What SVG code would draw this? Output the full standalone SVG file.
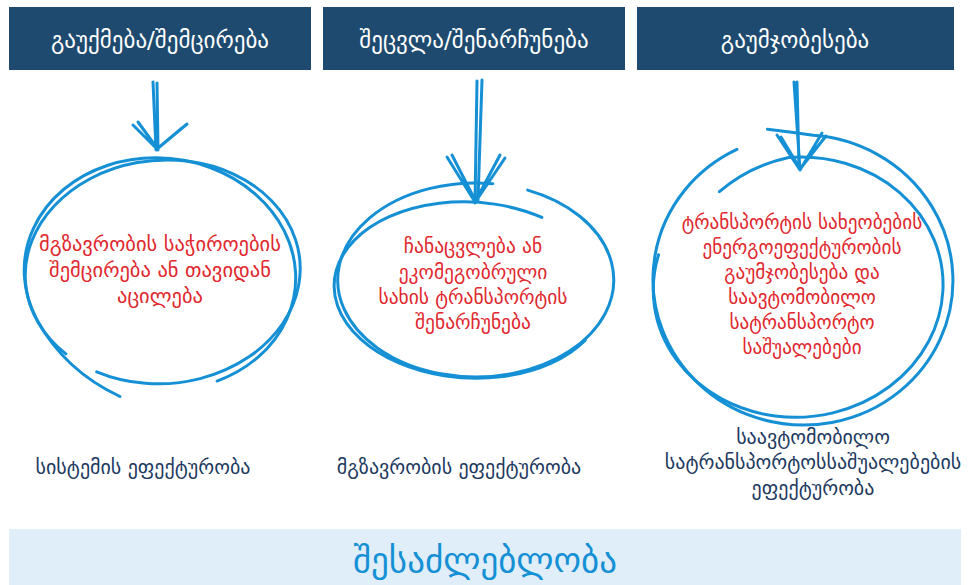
<svg xmlns="http://www.w3.org/2000/svg" width="973" height="585" viewBox="0 0 973 585">
<style>
.hdr{fill:#1d4a6e}
.ht{font-family:"DejaVu Sans",sans-serif;font-size:23px;fill:#ffffff;text-anchor:middle}
.sk{fill:none;stroke:#1590d5;stroke-width:3;stroke-linecap:round;stroke-linejoin:round}
.rt{font-family:"DejaVu Sans",sans-serif;font-size:19.5px;fill:#e0282e;text-anchor:middle}
.lb{font-family:"DejaVu Sans",sans-serif;font-size:20px;fill:#1e3a5f;text-anchor:middle}
.bt{font-family:"DejaVu Sans",sans-serif;font-size:35px;fill:#1590d5;text-anchor:middle}
</style>
<rect width="973" height="585" fill="#ffffff"/>
<g id="header1"><rect class="hdr" x="9" y="7" width="302" height="63"/><text class="ht" x="160" y="48">გაუქმება/შემცირება</text></g>
<g id="header2"><rect class="hdr" x="323" y="7" width="302" height="63"/><text class="ht" x="474" y="48">შეცვლა/შენარჩუნება</text></g>
<g id="header3"><rect class="hdr" x="637" y="7" width="317" height="63"/><text class="ht" x="795" y="48">გაუმჯობესება</text></g>
<g id="connectors">
<path class="sk" d="M153 82 L156 150 M157 83 L158 150 M133 125 L157 149 L187 124 M138 122 L157 148 M182 128 L157 149"/>
<path class="sk" d="M477 81 L475 203 M482 80 L478 200 M447 157 L475 202 L500 155 M452 155 L475 200 M505 158 L476 201"/>
<path class="sk" d="M794 82 L800 170 M797 82 L799 168 M777 135 L800 170 L822 133 M781 137 L799 167 M826 136 L800 169"/>
</g>
<g id="node1">
<path class="sk" transform="rotate(-4 163 272)" d="M89.9 367 A138 112 0 0 0 240.2 179.2 A138 112 0 0 0 60.4 346.9"/>
<path class="sk" transform="rotate(6 160 274)" d="M228 374.5 A136 116 0 0 0 96.2 171.6 A136 116 0 0 0 42.2 332 Q75 380 133 400"/>
<text class="rt" style="font-size:20.5px" x="160" y="251">მგზავრობის საჭიროების</text>
<text class="rt" style="font-size:20.5px" x="160" y="277">შემცირება ან თავიდან</text>
<text class="rt" style="font-size:20.5px" x="160" y="303">აცილება</text>
</g>
<g id="node2">
<path class="sk" d="M527.7 190.1 A138 97 0 1 1 492.8 183.7"/>
<path class="sk" transform="rotate(3 470 290)" d="M587.8 334 A136 88 0 1 1 538 213.8"/>
<text class="rt" x="473" y="253">ჩანაცვლება ან</text>
<text class="rt" x="473" y="279">ეკომეგობრული</text>
<text class="rt" x="473" y="304">სახის ტრანსპორტის</text>
<text class="rt" x="473" y="329">შენარჩუნება</text>
</g>
<g id="node3">
<path class="sk" transform="rotate(4 803 280)" d="M757 132 Q780 133 803 135 A150 145 0 1 1 728 154.4"/>
<path class="sk" transform="rotate(-5 800 287)" d="M728 185 Q760 162 800 157 A145 130 0 1 1 661.9 242.5"/>
<text class="rt" style="font-size:19.2px" x="802" y="229">ტრანსპორტის სახეობების</text>
<text class="rt" style="font-size:19.2px" x="802" y="254">ენერგოეფექტურობის</text>
<text class="rt" style="font-size:19.2px" x="802" y="279">გაუმჯობესება და</text>
<text class="rt" style="font-size:19.2px" x="802" y="304">საავტომობილო</text>
<text class="rt" style="font-size:19.2px" x="802" y="329">სატრანსპორტო</text>
<text class="rt" style="font-size:19.2px" x="802" y="354">საშუალებები</text>
</g>
<g id="label1"><text class="lb" x="143" y="474">სისტემის ეფექტურობა</text></g>
<g id="label2"><text class="lb" x="459" y="474">მგზავრობის ეფექტურობა</text></g>
<g id="label3">
<text class="lb" x="813" y="444">საავტომობილო</text>
<text class="lb" x="813" y="469">სატრანსპორტოსსაშუალებების</text>
<text class="lb" x="813" y="495">ეფექტურობა</text>
</g>
<g id="band"><rect x="9" y="529" width="952" height="56" fill="#dfeef8"/><text class="bt" x="485" y="572">შესაძლებლობა</text></g>
</svg>
